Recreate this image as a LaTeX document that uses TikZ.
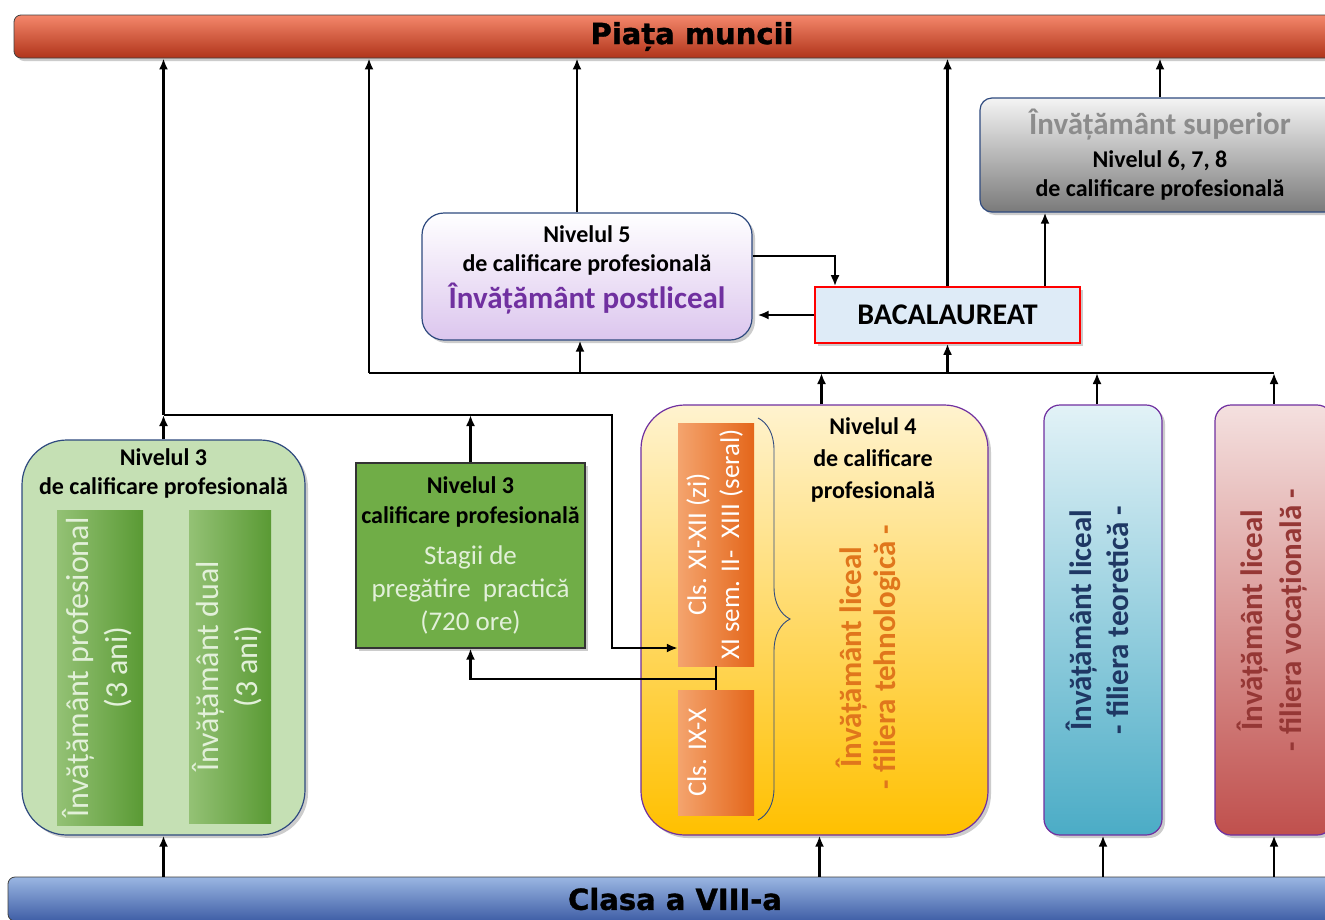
\documentclass[tikz,border=0pt]{standalone}
\usepackage{graphicx}
\usepackage{fontspec}
\setmainfont{Carlito}
\newfontfamily\barfont{DejaVu Sans}[FakeBold=1.2]
\usetikzlibrary{arrows.meta,shadows,decorations.pathreplacing}

\definecolor{redtop}{HTML}{F4876B}
\definecolor{redbot}{HTML}{B0341A}
\definecolor{bluetop}{HTML}{9AB6E2}
\definecolor{bluebot}{HTML}{3F5EA6}
\definecolor{graytop}{HTML}{F4F4F4}
\definecolor{graybot}{HTML}{7A7A7A}
\definecolor{graytxt}{HTML}{8C8C8C}
\definecolor{lilacbot}{HTML}{DCC6EE}
\definecolor{purpletxt}{HTML}{7030A0}
\definecolor{navyline}{HTML}{2F4A7F}
\definecolor{bacfill}{HTML}{DEEBF7}
\definecolor{lightgreen}{HTML}{C5E0B4}
\definecolor{midgreen}{HTML}{70AD47}
\definecolor{darkgreen}{HTML}{5A9A34}
\definecolor{greentxt}{HTML}{E2F0D9}
\definecolor{yellowtop}{HTML}{FFF3CF}
\definecolor{yellowbot}{HTML}{FFC000}
\definecolor{orangeL}{HTML}{F4A46E}
\definecolor{orangeR}{HTML}{E4661A}
\definecolor{orangetxt}{HTML}{E0761C}
\definecolor{cyantop}{HTML}{E2F2F7}
\definecolor{cyanbot}{HTML}{4BACC6}
\definecolor{cyantxt}{HTML}{1F3864}
\definecolor{rosetop}{HTML}{F4E0DF}
\definecolor{rosebot}{HTML}{C0504D}
\definecolor{rosetxt}{HTML}{953735}

\newcommand{\vtxt}[1]{\rotatebox{90}{\begin{tabular}{@{}c@{}}#1\end{tabular}}}

\tikzset{
  shadowed/.style={drop shadow={opacity=0.4,shadow xshift=3pt,shadow yshift=-3pt}},
  bar/.style={rounded corners=7pt,draw=black!75,line width=0.8pt,inner sep=0pt,shadowed,
    font=\barfont\bfseries\fontsize{29}{30}\selectfont},
  box/.style={rounded corners=#1,draw=navyline,line width=1.2pt,inner sep=0pt,align=center,shadowed},
  box/.default=12pt,
  lvl/.style={font=\bfseries\fontsize{24}{29}\selectfont,align=center,inner sep=0pt},
  bacbox/.style={fill=bacfill,draw=red,line width=1.6pt,shadowed,
    font=\bfseries\fontsize{30}{36}\selectfont},
  greenbar/.style={left color=midgreen!75!white,right color=darkgreen,inner sep=0pt,
    text=greentxt,font=\fontsize{32}{39}\selectfont},
  stagebox/.style={fill=midgreen,draw=black!80,line width=1.2pt,align=center,inner sep=0pt,shadowed,
    text=greentxt,font=\fontsize{27}{33}\selectfont},
  orangebar/.style={left color=orangeL,right color=orangeR,inner sep=0pt,
    text=white,font=\fontsize{27}{33}\selectfont},
  wire/.style={line width=2.4pt},
  conn/.style={line width=2.4pt,-{Latex[length=11pt,width=9pt]}}
}

\begin{document}
\begin{tikzpicture}[x=1pt,y=-1pt]
\useasboundingbox (0,0) rectangle (1325,919);
\clip (0,0) rectangle (1325,919);
\fill[white] (0,0) rectangle (1325,919);

\node at (692,36.5) [bar,top color=redtop,bottom color=redbot,minimum width=1356,minimum height=43] (piata) {Piața muncii};
\node at (675,899) [bar,top color=bluetop,bottom color=bluebot,minimum width=1334,minimum height=44] (clasa) {Clasa a VIII-a};

\node at (1160,155) [box,lvl,top color=graytop,bottom color=graybot,minimum width=360,minimum height=114] (sup)
  {{\fontsize{31}{36}\selectfont\color{graytxt}Învățământ superior}\\[4pt]Nivelul 6, 7, 8\\de calificare profesională};

\node at (587,276.5) [box=22pt,top color=white,bottom color=lilacbot,minimum width=330,minimum height=127] (n5) {};
\node at (587,270) [lvl] (n5txt) {Nivelul 5\\de calificare profesională\\[6pt]{\fontsize{31}{36}\selectfont\color{purpletxt}Învățământ postliceal}};
\node at (947.5,315) [bacbox,minimum width=265,minimum height=56] (bac) {BACALAUREAT};

\node at (163.5,637.5) [box=45pt,fill=lightgreen,minimum width=283,minimum height=395] (lgreen) {};
\node at (163.5,473) [lvl] (lgreentxt) {Nivelul 3\\de calificare profesională};
\node at (100,667.5) [greenbar,minimum width=86,minimum height=315] (prof) {\vtxt{Învățământ profesional\\(3 ani)}};
\node at (230,666.5) [greenbar,minimum width=82,minimum height=313] (dual) {\vtxt{Învățământ dual\\(3 ani)}};

\node at (470.5,555.5) [stagebox,minimum width=229,minimum height=185] (stagii)
  {{\bfseries\color{black}\fontsize{24}{29}\selectfont Nivelul 3}\\[-3pt]{\bfseries\color{black}\fontsize{24}{29}\selectfont calificare profesională}\\[8pt]Stagii de\\pregătire\ \ practică\\(720 ore)};

\node at (814.5,620) [box=44pt,draw=purpletxt,top color=yellowtop,bottom color=yellowbot,minimum width=347,minimum height=430] (n4) {};
\node at (716,544.5) [orangebar,minimum width=76,minimum height=243] (cls2) {\vtxt{Cls. XI-XII (zi)\\XI sem. II-\ \ XIII (seral)}};
\node at (716,752.5) [orangebar,minimum width=76,minimum height=125] (cls1) {\vtxt{Cls. IX-X\\\mbox{}}};
\draw[decorate,decoration={brace,amplitude=32pt},draw=navyline,line width=0.9pt] (758,418) -- (758,820);
\node at (873,460) [lvl,font=\bfseries\fontsize{24}{32}\selectfont] (n4title) {Nivelul 4\\de calificare\\profesională};
\node at (871,657) [text=orangetxt,font=\bfseries\fontsize{31}{34}\selectfont] (n4txt) {\vtxt{Învățământ liceal\\- filiera tehnologică -}};

\node at (1103,620) [box=16pt,draw=purpletxt,top color=cyantop,bottom color=cyanbot,minimum width=118,minimum height=430,
  text=cyantxt,font=\bfseries\fontsize{31}{37}\selectfont] (teor) {\vtxt{Învățământ liceal\\- filiera teoretică -}};
\node at (1274,620) [box=16pt,draw=purpletxt,top color=rosetop,bottom color=rosebot,minimum width=118,minimum height=430,
  text=rosetxt,font=\bfseries\fontsize{31}{39}\selectfont] (voc) {\vtxt{Învățământ liceal\\- filiera vocațională -}};

\coordinate (j1) at (163.5,415);
\coordinate (bend1) at (612,648);
\coordinate (tee) at (716,679);
\coordinate (h1) at (369,373);
\coordinate (h2) at (1274,373);

\draw[conn] (clasa.north -| lgreen.south) -- (lgreen.south);
\draw[conn] ([xshift=5]clasa.north -| n4.south) -- ([xshift=5]n4.south);
\draw[conn] (clasa.north -| teor.south) -- (teor.south);
\draw[conn] (clasa.north -| voc.south) -- (voc.south);

\draw[conn] (lgreen.north) -- (j1);
\draw[conn] (j1) -- (j1 |- piata.south);
\draw[conn] (stagii.north) -- (stagii.north |- j1);
\draw[conn] (j1) -| (bend1) -- (cls2.west |- bend1);
\draw[wire] (cls2.south) -- (cls1.north);
\draw[conn] (tee) -| (stagii.south);

\draw[wire] (h1) -- (h2);
\draw[conn] (h1) -- (h1 |- piata.south);
\draw[conn] ([xshift=-7]h1 -| n5.south) -- ([xshift=-7]n5.south);
\draw[conn] (h1 -| bac.south) -- (bac.south);
\draw[conn] ([xshift=7]n4.north) -- ([xshift=7]n4.north |- h1);
\draw[conn] ([xshift=-6]teor.north) -- ([xshift=-6]teor.north |- h1);
\draw[conn] (voc.north) -- (h2);

\draw[conn] ([xshift=-10]n5.north) -- ([xshift=-10]n5.north |- piata.south);
\draw[conn] (bac.north) -- (bac.north |- piata.south);
\draw[conn] ([xshift=97.5]bac.north) -- ([xshift=97.5]bac.north |- sup.south);
\draw[conn] (sup.north) -- (sup.north |- piata.south);
\draw[conn] ([yshift=20.5]n5.east) -| ([xshift=-112.5]bac.north);
\draw[conn,shorten >=5pt] (bac.west) -- (bac.west -| n5.east);
\end{tikzpicture}
\end{document}
